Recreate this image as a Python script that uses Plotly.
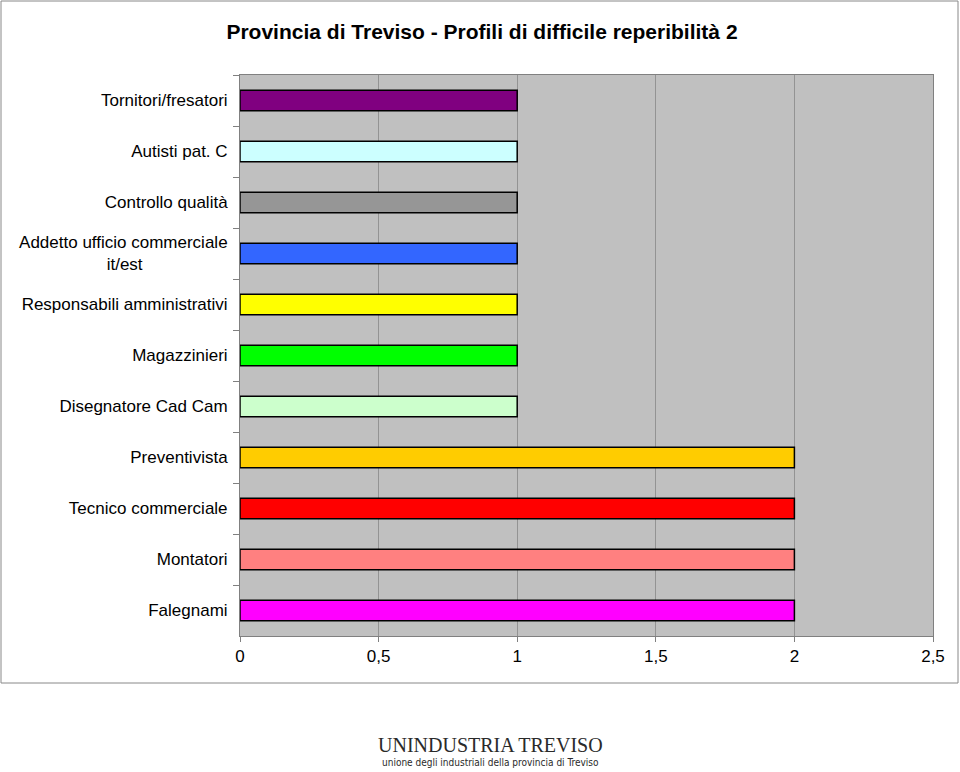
import plotly.graph_objects as go

categories = [
    "Tornitori/fresatori",
    "Autisti pat. C",
    "Controllo qualità",
    "Addetto ufficio commerciale<br>it/est" + "\u00a0" * 18,
    "Responsabili amministrativi",
    "Magazzinieri",
    "Disegnatore Cad Cam",
    "Preventivista",
    "Tecnico commerciale",
    "Montatori",
    "Falegnami",
]
values = [1, 1, 1, 1, 1, 1, 1, 2, 2, 2, 2]
colors = ["#800080", "#CCFFFF", "#969696", "#3366FF", "#FFFF00", "#00FF00",
          "#CCFFCC", "#FFCC00", "#FF0000", "#FF8080", "#FF00FF"]
x_ticks = [0, 0.5, 1, 1.5, 2, 2.5]
x_tick_labels = ["0", "0,5", "1", "1,5", "2", "2,5"]

fig = go.Figure(go.Bar(
    y=categories, x=values, orientation="h",
    marker=dict(color=colors, line=dict(color="black", width=1.5)),
    width=0.4, hoverinfo="x+y",
))

W, H = 960, 772
L, R, T, B = 240, 27, 75, 136
pw, ph = W - L - R, H - T - B

def px(xp):
    return (xp - L) / pw

def py(yp):
    return (H - B - yp) / ph

fig.update_layout(
    width=W, height=H,
    margin=dict(l=L, r=R, t=T, b=B),
    paper_bgcolor="white", plot_bgcolor="#C0C0C0",
    separators=",.",
    font=dict(family="Liberation Sans, Arial, sans-serif", size=17, color="black"),
    title=dict(text="<b>Provincia di Treviso - Profili di difficile reperibilità 2</b>",
               x=482 / W, xanchor="center", y=1 - 32 / H, yanchor="middle",
               font=dict(size=21, color="black")),
    showlegend=False,
)
fig.update_xaxes(range=[0, 2.5], tickvals=x_ticks, ticktext=x_tick_labels,
                 showgrid=True, gridcolor="#939393", gridwidth=1,
                 showline=True, linecolor="#808080", linewidth=1, mirror=True,
                 ticks="outside", ticklen=5, tickcolor="#808080", zeroline=False,
                 fixedrange=True)
fig.update_yaxes(autorange="reversed", type="category",
                 showline=True, linecolor="#808080", linewidth=1, mirror=True,
                 ticks="outside", ticklen=6, tickcolor="#808080", tickson="boundaries",
                 showgrid=False, ticklabelstandoff=8, fixedrange=True)

fig.add_shape(type="rect", xref="paper", yref="paper",
              x0=px(1), x1=px(958), y0=py(683), y1=py(1),
              line=dict(color="#888888", width=1), fillcolor="rgba(0,0,0,0)", layer="below")

fig.add_annotation(text="UNINDUSTRIA TREVISO", xref="paper", yref="paper",
                   x=px(490), y=py(745), xanchor="center", yanchor="middle", showarrow=False,
                   font=dict(family="Liberation Serif, Times New Roman, serif", size=20, color="#2a2a2a"))
fig.add_annotation(text="unione degli industriali della provincia di Treviso", xref="paper", yref="paper",
                   x=px(490), y=py(762), xanchor="center", yanchor="middle", showarrow=False,
                   font=dict(family="DejaVu Sans Condensed, DejaVu Sans, sans-serif", size=10, color="#2a2a2a"))

fig.write_html("out.html", config={"displayModeBar": False},
               post_script="document.body.style.margin='0';")
